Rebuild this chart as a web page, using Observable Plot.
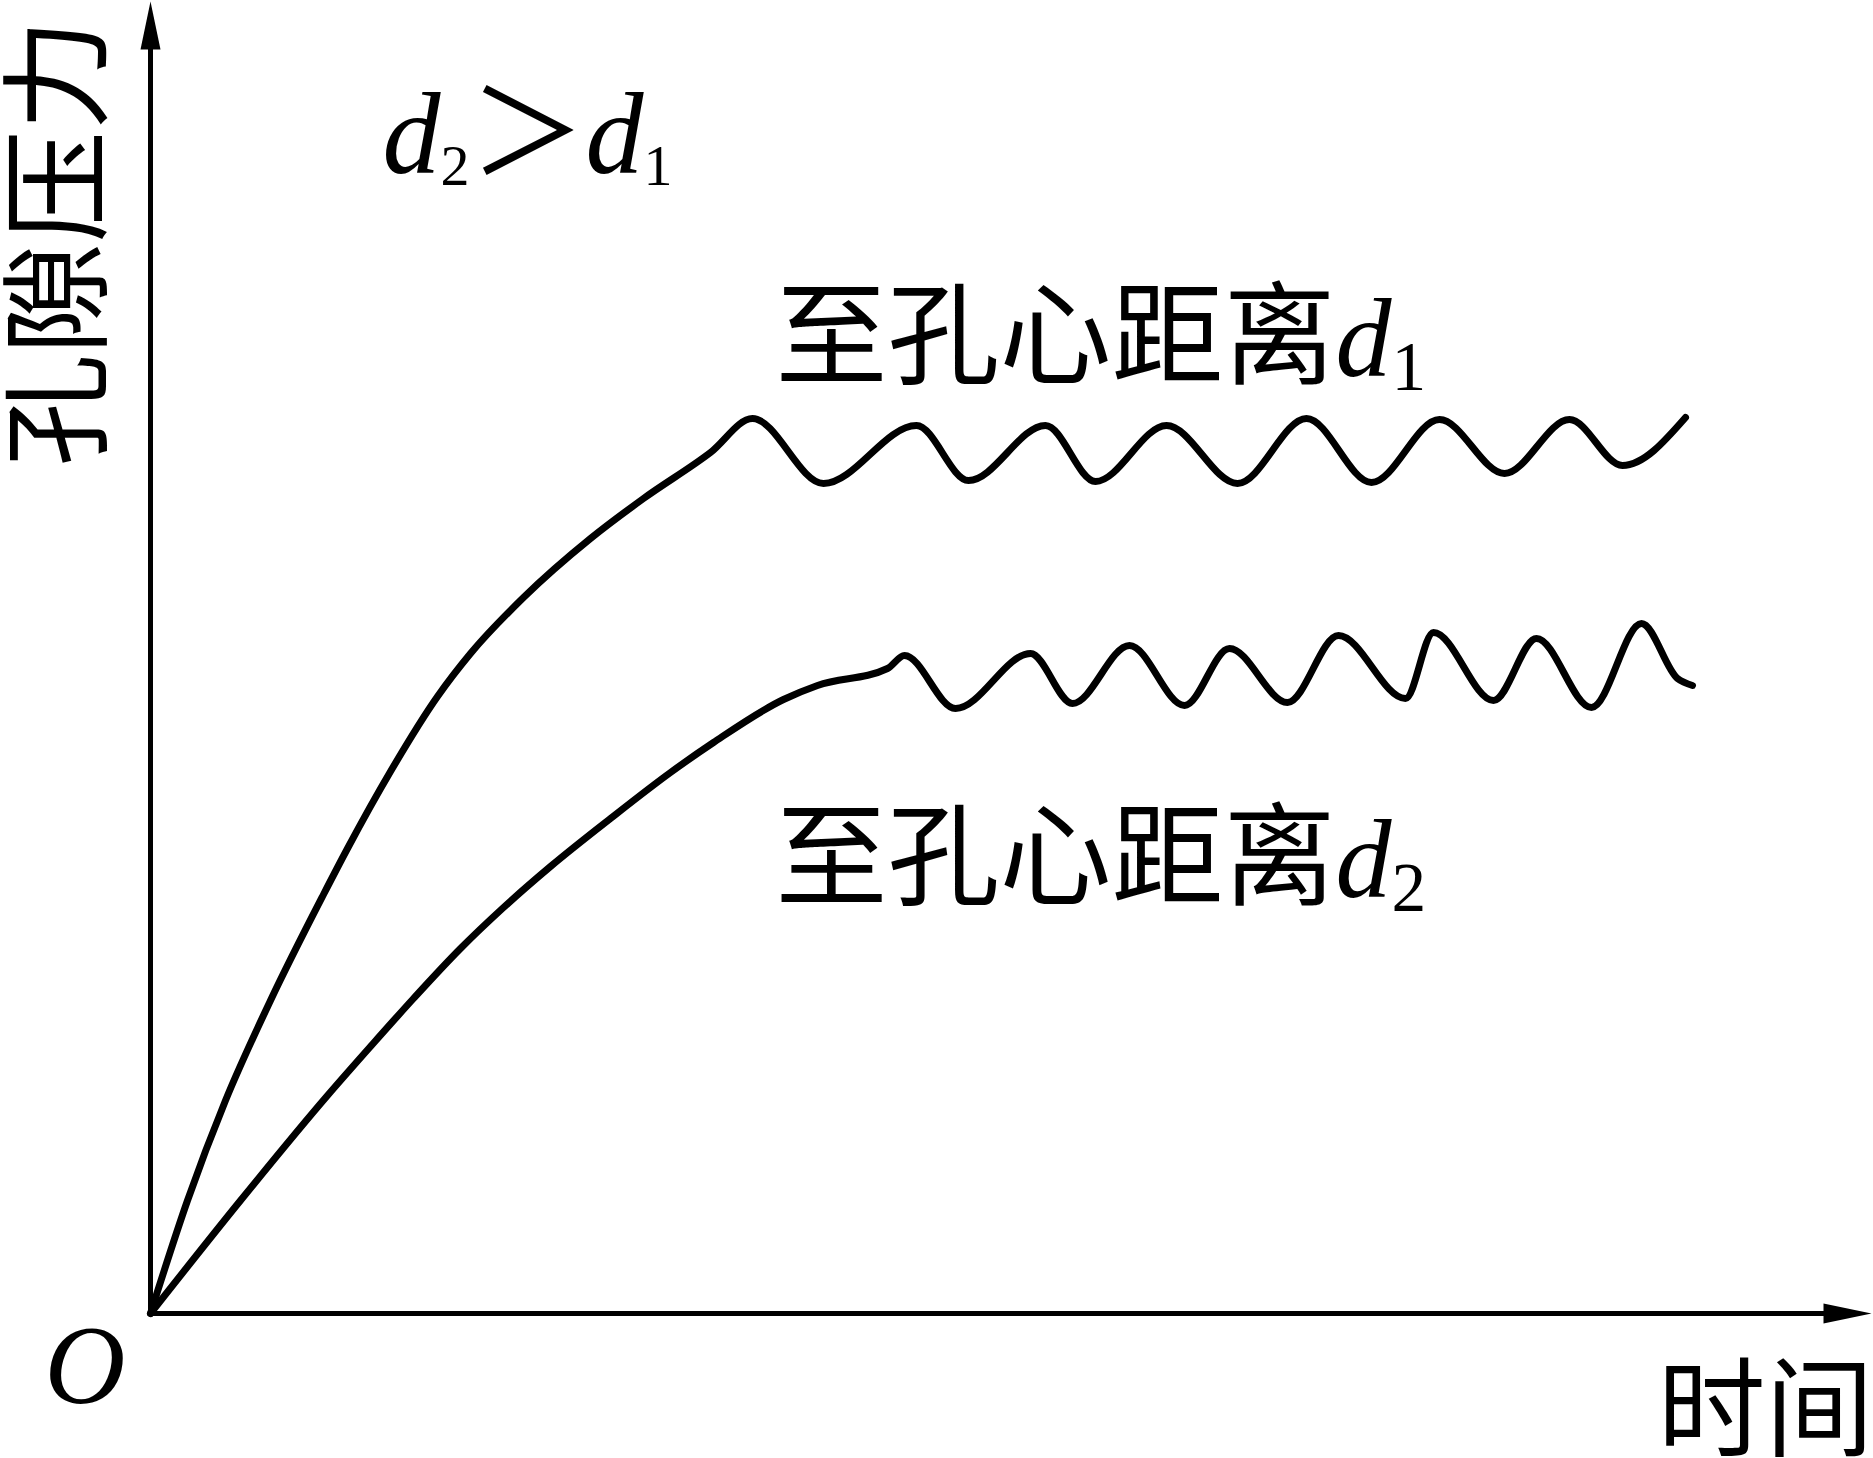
<!DOCTYPE html>
<html>
<head>
<meta charset="utf-8">
<script src="https://cdn.jsdelivr.net/npm/d3@7"></script>
<script src="https://cdn.jsdelivr.net/npm/@observablehq/plot@0.6"></script>
<style>
  html, body { margin: 0; padding: 0; background: #fff; overflow: hidden; }
  #chart svg { display: block; }
</style>
</head>
<body>
<div id="chart"></div>
<script>
// ---- Data (time, pore pressure; arbitrary units) ----
const d1Time = [0, 0.37, 0.75, 1.20, 1.73, 1.97, 2.40, 2.87, 3.20, 3.73, 4.40, 4.93, 5.60,
  6.02, 6.73, 7.66, 8.18, 8.95, 9.45, 10.16, 10.87, 11.56, 12.21, 12.89, 13.54, 14.19, 14.72, 15.35];
const d1Pressure = [0, 1.13, 2.13, 3.13, 4.19, 4.65, 5.42, 6.17, 6.60, 7.16, 7.75, 8.15, 8.61,
  8.95, 8.30, 8.88, 8.33, 8.88, 8.32, 8.88, 8.30, 8.95, 8.31, 8.94, 8.40, 8.94, 8.48, 8.96];

const d2Time = [0, 0.90, 1.77, 2.20, 2.63, 3.10, 3.53, 4.00, 4.60, 5.20, 5.63, 6.33, 6.67, 7.37,
  7.54, 8.05, 8.80, 9.22, 9.79, 10.34, 10.79, 11.37, 11.88, 12.55, 12.83, 13.43, 13.86, 14.41, 14.91, 15.27, 15.42];
const d2Pressure = [0, 1.13, 2.18, 2.67, 3.15, 3.65, 4.06, 4.47, 4.95, 5.41, 5.71, 6.14, 6.28, 6.45,
  6.58, 6.05, 6.60, 6.10, 6.68, 6.08, 6.65, 6.11, 6.78, 6.15, 6.81, 6.13, 6.75, 6.06, 6.90, 6.35, 6.28];

// Annotation texts (*x* = italic, _c = subscript) and their anchors in data units
const noteTexts = ["*d*_2＞*d*_1", "至孔心距离*d*_1", "至孔心距离*d*_2"];
const noteTime = [2.32, 6.25, 6.25];
const notePressure = [11.41, 9.38, 4.17];

// Axis titles
const yTitle = "孔隙压力";
const xTitle = "时间";
const originLabel = "O";

// Domain of the drawing
const timeDomain = [-1.5, 17.23];
const pressureDomain = [-1.45, 13.13];
const timeAxisEnd = 17.21;
const pressureAxisEnd = 13.12;

// ---- Build tables ----
const series = [
  ...d1Time.map((t, i) => ({series: "d1", t, p: d1Pressure[i]})),
  ...d2Time.map((t, i) => ({series: "d2", t, p: d2Pressure[i]}))
];
const notes = noteTexts.map((s, i) => ({s, t: noteTime[i], p: notePressure[i]}));

// Filled, elongated arrowhead (tip at origin, pointing up)
const arrowHead = {
  draw(ctx) {
    ctx.moveTo(0, 0);
    ctx.lineTo(10, 48);
    ctx.lineTo(-10, 48);
    ctx.closePath();
  }
};

const serif = "'Liberation Serif', 'Times New Roman', 'Noto Sans CJK SC', serif";
const cjk = "'Noto Sans CJK SC', sans-serif";

const chart = Plot.plot({
  width: 1873,
  height: 1458,
  margin: 0,
  x: {domain: timeDomain, range: [0, 1873], axis: null},
  y: {domain: pressureDomain, range: [1458, 0], axis: null},
  style: {background: "#fff", color: "#000"},
  marks: [
    // axes
    Plot.ruleX([0], {y1: 0, y2: pressureAxisEnd - 0.3, stroke: "#000", strokeWidth: 5}),
    Plot.ruleY([0], {x1: 0, x2: timeAxisEnd - 0.3, stroke: "#000", strokeWidth: 5}),
    Plot.dot([{t: 0, p: pressureAxisEnd}], {x: "t", y: "p", symbol: arrowHead, fill: "#000", stroke: null, r: 10}),
    Plot.dot([{t: timeAxisEnd, p: 0}], {x: "t", y: "p", symbol: arrowHead, fill: "#000", stroke: null, r: 10, rotate: 90}),
    // curves
    Plot.line(series, {x: "t", y: "p", z: "series", curve: "monotone-x", stroke: "#000",
      strokeWidth: 7, strokeLinejoin: "round", strokeLinecap: "round"}),
    // annotations
    Plot.text(notes.slice(0, 1), {x: "t", y: "p", text: "s", textAnchor: "start", lineAnchor: "bottom",
      fontSize: 116, fontFamily: serif, fill: "#000"}),
    Plot.text(notes.slice(1), {x: "t", y: "p", text: "s", textAnchor: "start", lineAnchor: "bottom",
      fontSize: 112, fontFamily: serif, fill: "#000"}),
    // axis titles
    Plot.text([yTitle], {x: () => -0.88, y: () => 10.71, text: d => d, rotate: -90, textAnchor: "middle",
      lineAnchor: "middle", fontSize: 112, fontFamily: cjk, fill: "#000"}),
    Plot.text([xTitle], {x: () => 15.07, y: () => -1.34, text: d => d, textAnchor: "start",
      lineAnchor: "bottom", fontSize: 108, fontFamily: cjk, fill: "#000"}),
    Plot.text([originLabel], {x: () => -1.06, y: () => -0.89, text: d => d, textAnchor: "start",
      lineAnchor: "bottom", fontSize: 112, fontFamily: serif, fontStyle: "italic", fill: "#000"})
  ]
});

// Turn simple markup into italic / subscript tspans
const subStyle = {
  "*d*_2＞*d*_1": {scale: 0.5, shift: 0.11},
  "至孔心距离*d*_1": {scale: 0.62, shift: 0.13},
  "至孔心距离*d*_2": {scale: 0.62, shift: 0.13}
};
const NS = "http://www.w3.org/2000/svg";
chart.querySelectorAll("text").forEach(el => {
  const raw = el.textContent;
  const st = subStyle[raw];
  if (!st) return;
  const g = el.closest("g[font-size]");
  const fs = g ? parseFloat(g.getAttribute("font-size")) : 112;
  el.textContent = "";
  const re = /\*([^*]+)\*|_(.)|([^*_]+)/g;
  let m, shifted = false;
  while ((m = re.exec(raw))) {
    const ts = document.createElementNS(NS, "tspan");
    if (m[2] !== undefined) {
      ts.textContent = m[2];
      ts.setAttribute("font-size", fs * st.scale);
      ts.setAttribute("font-style", "normal");
      ts.setAttribute("dy", fs * st.shift);
      shifted = true;
    } else {
      if (m[1] !== undefined) {
        ts.textContent = m[1];
        ts.setAttribute("font-style", "italic");
      } else {
        ts.textContent = m[3];
        if (/[\u3000-\u9fff\uff00-\uffef]/.test(m[3])) ts.setAttribute("font-family", cjk);
      }
      if (shifted) { ts.setAttribute("dy", -fs * st.shift); shifted = false; }
    }
    el.appendChild(ts);
  }
});

document.getElementById("chart").appendChild(chart);
</script>
</body>
</html>
